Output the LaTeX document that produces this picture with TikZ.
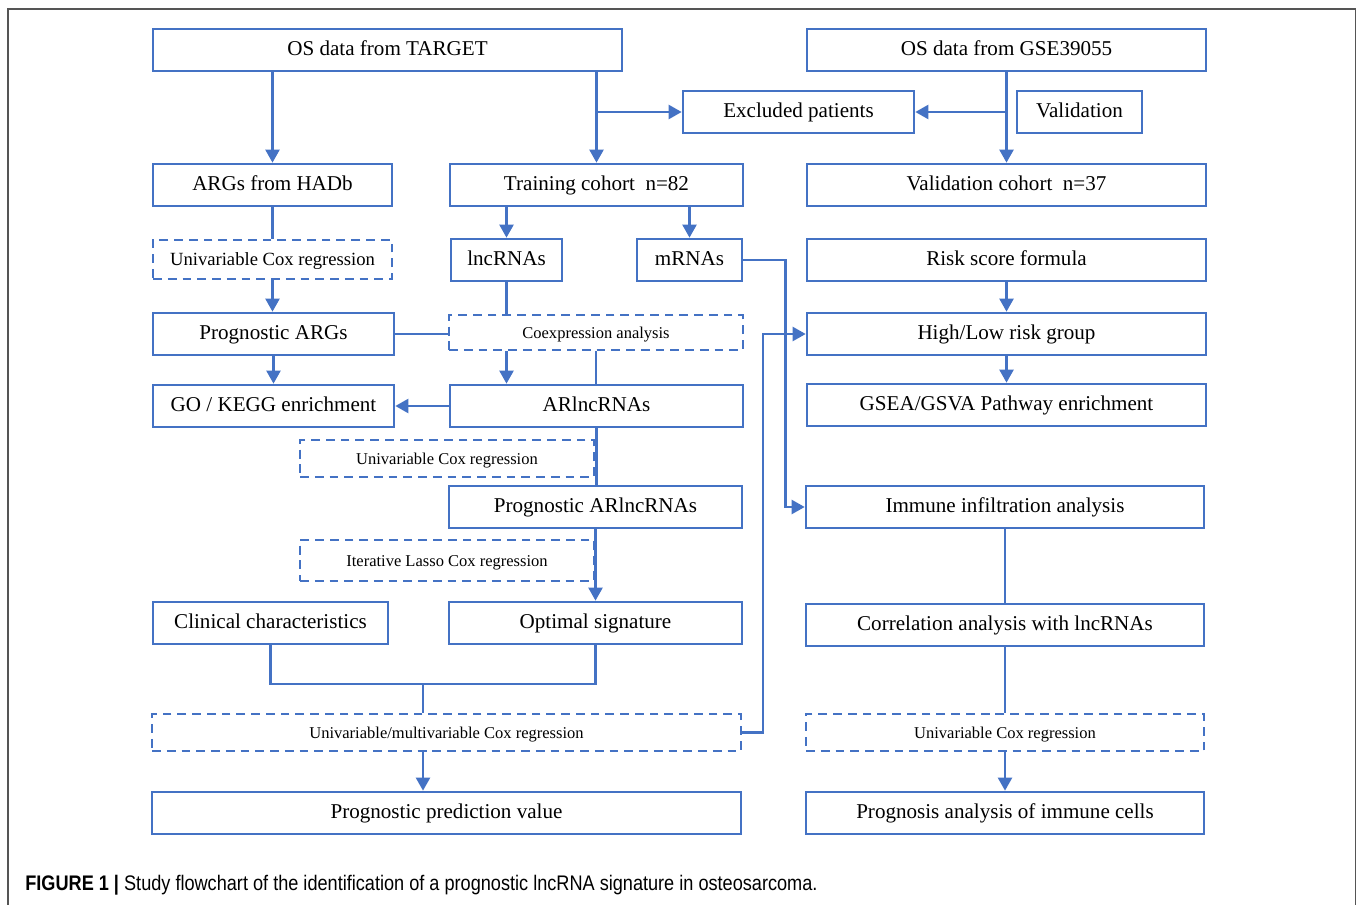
\documentclass[tikz,border=0pt]{standalone}
\usepackage{fontspec}
\setmainfont{Liberation Serif}
\newfontfamily\capfont[FakeStretch=0.86]{Liberation Sans}
\usetikzlibrary{arrows.meta}
\definecolor{flowblue}{RGB}{68,114,196}
\definecolor{framegray}{RGB}{85,85,85}

\begin{document}
\begin{tikzpicture}[
  x=0.02cm, y=-0.02cm,
  box/.style={draw=flowblue, line width=1.5pt, fill=white, inner sep=0pt,
    minimum height=0.84cm, text height=0.68em, text depth=0pt,
    font=\fontsize{12}{14}\selectfont},
  dbox/.style={box, line width=1.3pt, dash pattern=on 5pt off 3.4pt, minimum height=0.74cm,
    font=\fontsize{9.4}{11}\selectfont},
  link/.style={draw=flowblue, line width=1.5pt},
  arr/.style={link, -{Triangle[length=7.5pt, width=8pt]}},
  frame/.style={draw=framegray, line width=1.1pt},
]
\useasboundingbox (0,0) rectangle (1358,905);

% Outer frame
\draw[frame] (8,905) |- (1355.5,9) -- (1355.5,905);

% Data sources
\node[box, minimum width=9.38cm] (tgt) at (387.5,50) {OS data from TARGET};
\node[box, minimum width=7.98cm] (gse) at (1006.5,50) {OS data from GSE39055};
\node[box, minimum width=4.62cm] (excl) at (798.5,112) {Excluded patients};
\node[box, minimum width=2.5cm] (valid) at (1079.5,112) {Validation};

% Cohorts
\node[box, minimum width=4.78cm] (args) at (272.5,185) {ARGs from HADb};
\node[box, minimum width=5.86cm] (train) at (596.5,185) {Training cohort~ n=82};
\node[box, minimum width=7.98cm] (vcoh) at (1006.5,185) {Validation cohort~ n=37};

% Left column
\node[dbox, minimum width=4.78cm, minimum height=0.78cm, font=\fontsize{10.6}{12}\selectfont] (uc1) at (272.5,259.5) {Univariable Cox regression};
\node[box, minimum width=4.82cm] (pargs) at (273.5,334) {Prognostic ARGs};
\node[box, minimum width=4.82cm] (gokegg) at (273.5,406) {GO / KEGG enrichment};
\node[box, minimum width=4.7cm] (clin) at (270.5,623) {Clinical characteristics};

% Middle column
\node[box, minimum width=2.22cm] (lnc) at (506.5,260) {lncRNAs};
\node[box, minimum width=2.1cm] (mrna) at (689.5,260) {mRNAs};
\node[dbox, minimum width=5.88cm, minimum height=0.7cm] (coex) at (596,332.5) {Coexpression analysis};
\node[box, minimum width=5.86cm] (arl) at (596.5,406) {ARlncRNAs};
\node[dbox, minimum width=5.88cm] (uc2) at (447,458.5) {Univariable Cox regression};
\node[box, minimum width=5.86cm] (parl) at (595.5,507) {Prognostic ARlncRNAs};
\node[dbox, minimum width=5.88cm, minimum height=0.82cm] (lasso) at (447,560.5) {Iterative Lasso Cox regression};
\node[box, minimum width=5.86cm] (optsig) at (595.5,623) {Optimal signature};
\node[dbox, minimum width=11.78cm] (ucm) at (446.5,732.5) {Univariable/multivariable Cox regression};
\node[box, minimum width=11.78cm] (pred) at (446.5,813) {Prognostic prediction value};

% Right column
\node[box, minimum width=7.98cm] (risk) at (1006.5,260) {Risk score formula};
\node[box, minimum width=7.98cm] (hl) at (1006.5,334) {High/Low risk group};
\node[box, minimum width=7.98cm] (gsea) at (1006.5,405) {GSEA/GSVA Pathway enrichment};
\node[box, minimum width=7.96cm] (immune) at (1005,507) {Immune infiltration analysis};
\node[box, minimum width=7.96cm] (corr) at (1005,625) {Correlation analysis with lncRNAs};
\node[dbox, minimum width=7.96cm] (uc3) at (1005,732.5) {Univariable Cox regression};
\node[box, minimum width=7.96cm] (progimm) at (1005,813) {Prognosis analysis of immune cells};

% Caption
\node[anchor=west, inner sep=0pt, font=\capfont\fontsize{12}{14}\selectfont] (caption) at (25,885)
  {\textbf{FIGURE 1 |} Study flowchart of the identification of a prognostic lncRNA signature in osteosarcoma.};

% Top connectors
\draw[arr] (tgt.south -| args.north) -- (args.north);
\draw[arr] (tgt.south -| train.north) -- (train.north);
\draw[arr] (excl.west -| train.north) -- (excl.west);
\draw[arr] (gse.south) -- (vcoh.north);
\draw[arr] (excl.east -| gse.south) -- (excl.east);

% Left column connectors
\draw[link] (args.south) -- (uc1.north);
\draw[arr] (uc1.south) -- (uc1.south |- pargs.north);
\draw[arr] (pargs.south) -- (gokegg.north);
\draw[link] (pargs.east) -- (pargs.east -| coex.west);

% Middle column connectors
\draw[arr] (train.south -| lnc.north) -- (lnc.north);
\draw[arr] (train.south -| mrna.north) -- (mrna.north);
\draw[link] (lnc.south) -- (lnc.south |- coex.north);
\draw[arr] (coex.south -| lnc.south) -- (arl.north -| lnc.south);
\draw[link] (coex.south) -- (coex.south |- arl.north);
\draw[arr] (arl.west) -- (gokegg.east);
\draw[link] (arl.south) -- (arl.south |- parl.north);
\draw[arr] (parl.south) -- (parl.south |- optsig.north);

% Merge into Cox regression
\coordinate (merge) at (423,684);
\draw[link] (clin.south) |- (merge) -| (optsig.south);
\draw[link] (merge) -- (merge |- ucm.north);
\draw[arr] (ucm.south -| merge) -- (pred.north -| merge);

% Cross-over connectors
\draw[arr] (mrna.east) -- ++(42,0) |- (immune.west);
\draw[arr] (ucm.east) -- ++(21,0) |- (hl.west);

% Right column connectors
\draw[arr] (risk.south) -- (hl.north);
\draw[arr] (hl.south) -- (gsea.north);
\draw[link] (immune.south) -- (corr.north);
\draw[link] (corr.south) -- (uc3.north);
\draw[arr] (uc3.south) -- (progimm.north);
\end{tikzpicture}
\end{document}
